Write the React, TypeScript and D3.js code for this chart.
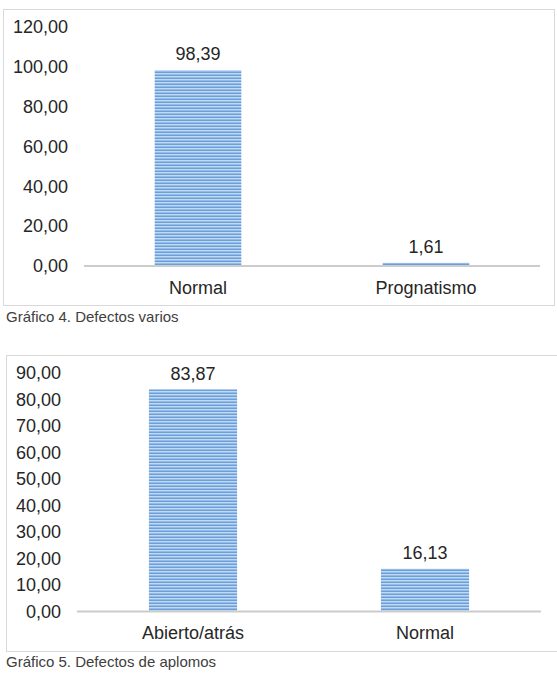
import React, { useEffect, useRef } from "react";
import * as d3 from "d3";

// Gráfico 4
const cats4 = ["Normal", "Prognatismo"];
const vals4 = [98.39, 1.61];
const ticks4 = [0, 20, 40, 60, 80, 100, 120];

// Gráfico 5
const cats5 = ["Abierto/atrás", "Normal"];
const vals5 = [83.87, 16.13];
const ticks5 = [0, 10, 20, 30, 40, 50, 60, 70, 80, 90];

const esLocale = d3.formatLocale({ decimal: ",", thousands: ".", grouping: [3], currency: ["", " €"] });
const fmt = esLocale.format(".2f");
const FONT = "'Liberation Sans', Arial, sans-serif";
const TXT = 18;

function drawChart(svg, opts) {
  const { cats, vals, ticks, box, x0, x1, yTop, yBase, caption, capY, tickX } = opts;

  const g = svg.append("g");

  g.append("rect")
    .attr("x", box[0]).attr("y", box[1])
    .attr("width", box[2]).attr("height", box[3])
    .attr("fill", "#fff")
    .attr("stroke", "#d9d9d9")
    .attr("stroke-width", 1);

  const y = d3.scaleLinear().domain([0, d3.max(ticks)]).range([yBase, yTop]);
  const x = d3.scaleBand().domain(cats).range([x0, x1]).paddingInner(0.62).paddingOuter(0.31);

  // tick labels only, the value axis has no line
  g.selectAll("text.tick")
    .data(ticks)
    .enter().append("text")
    .attr("class", "tick")
    .attr("x", tickX)
    .attr("y", d => y(d))
    .attr("dy", "0.35em")
    .attr("text-anchor", "end")
    .attr("font-family", FONT)
    .attr("font-size", TXT)
    .attr("fill", "#262626")
    .text(d => fmt(d));

  g.selectAll("rect.bar")
    .data(vals)
    .enter().append("rect")
    .attr("class", "bar")
    .attr("x", (d, i) => x(cats[i]))
    .attr("y", d => y(d))
    .attr("width", x.bandwidth())
    .attr("height", d => yBase - y(d))
    .attr("fill", "url(#stripes)");

  g.append("line")
    .attr("x1", x0).attr("x2", x1)
    .attr("y1", yBase).attr("y2", yBase)
    .attr("stroke", "#cccccc")
    .attr("stroke-width", 2);

  g.selectAll("text.val")
    .data(vals)
    .enter().append("text")
    .attr("class", "val")
    .attr("x", (d, i) => x(cats[i]) + x.bandwidth() / 2)
    .attr("y", d => y(d) - 16)
    .attr("dy", "0.35em")
    .attr("text-anchor", "middle")
    .attr("font-family", FONT)
    .attr("font-size", TXT)
    .attr("fill", "#262626")
    .text(d => fmt(d));

  g.selectAll("text.cat")
    .data(cats)
    .enter().append("text")
    .attr("class", "cat")
    .attr("x", d => x(d) + x.bandwidth() / 2)
    .attr("y", yBase + 21.5)
    .attr("dy", "0.35em")
    .attr("text-anchor", "middle")
    .attr("font-family", FONT)
    .attr("font-size", TXT)
    .attr("fill", "#262626")
    .text(d => d);

  g.append("text")
    .attr("x", 6)
    .attr("y", capY)
    .attr("dy", "0.35em")
    .attr("font-family", FONT)
    .attr("font-size", 15)
    .attr("fill", "#404040")
    .text(caption);
}

export default function App() {
  const ref = useRef(null);

  useEffect(() => {
    const svg = d3.select(ref.current);
    svg.selectAll("*").remove();

    // horizontal stripe fill for the bars
    const pat = svg.append("defs").append("pattern")
      .attr("id", "stripes")
      .attr("patternUnits", "userSpaceOnUse")
      .attr("width", 8).attr("height", 3);
    pat.append("rect").attr("width", 8).attr("height", 3).attr("fill", "#c2d9f2");
    pat.append("rect").attr("y", 0).attr("width", 8).attr("height", 1).attr("fill", "#6a9fdc");
    pat.append("rect").attr("y", 2).attr("width", 8).attr("height", 1).attr("fill", "#94bbe8");

    drawChart(svg, {
      cats: cats4, vals: vals4, ticks: ticks4,
      box: [3.5, 9.5, 551, 296],
      x0: 84, x1: 540, yTop: 27, yBase: 266,
      caption: "Gráfico 4. Defectos varios", capY: 317, tickX: 68
    });

    drawChart(svg, {
      cats: cats5, vals: vals5, ticks: ticks5,
      box: [6.5, 355.5, 560, 296],
      x0: 77, x1: 541, yTop: 373, yBase: 611.5,
      caption: "Gráfico 5. Defectos de aplomos", capY: 662, tickX: 61
    });
  }, []);

  return (
    <svg
      ref={ref}
      width={557}
      height={675}
      style={{ position: "absolute", left: 0, top: 0, background: "#fff" }}
    />
  );
}
